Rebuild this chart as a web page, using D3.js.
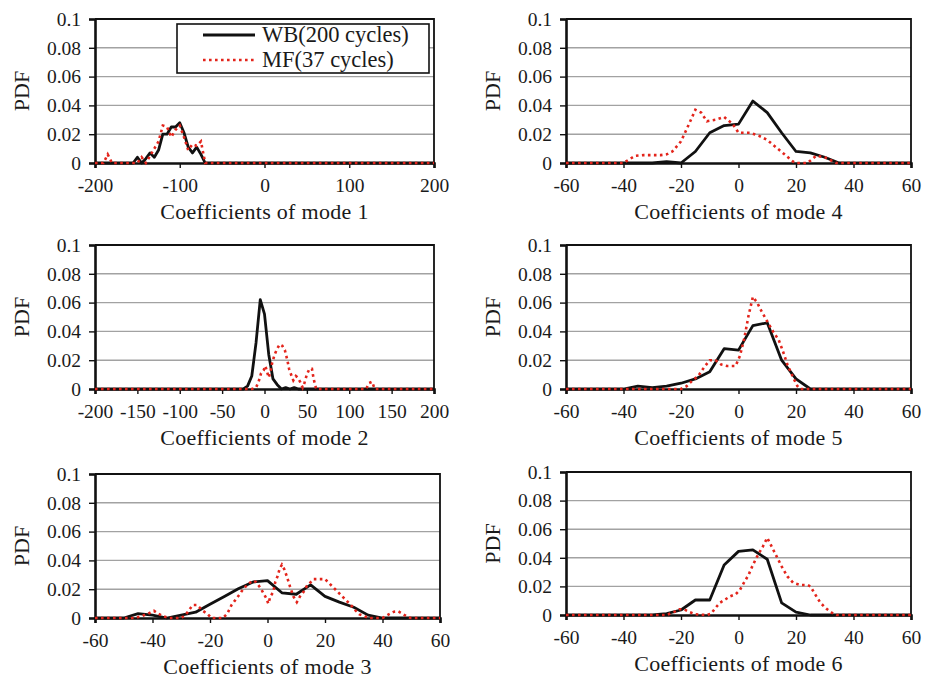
<!DOCTYPE html>
<html>
<head>
<meta charset="utf-8">
<script src="https://cdn.jsdelivr.net/npm/d3@7/dist/d3.min.js"></script>
<style>
	body { margin: 0; background: #fff; }
	svg { display: block; }
	text { font-family: "Liberation Serif", "Times New Roman", serif; fill: #1a1a1a; }
</style>
</head>
<body>
<svg id="chart" width="931" height="678"></svg>
<script>
// tick values
var yTicks = [0, 0.02, 0.04, 0.06, 0.08, 0.1];
var ticksMode1 = [-200, -100, 0, 100, 200];
var ticksMode2 = [-200, -150, -100, -50, 0, 50, 100, 150, 200];
var ticksSmall = [-60, -40, -20, 0, 20, 40, 60];

var seriesNames = ["WB(200 cycles)", "MF(37 cycles)"];

// [coefficient, pdf]
var wbMode1 = [[-200,0],[-155,0],[-150,0.004],[-145,0],[-140,0.003],[-135,0.007],[-130,0.004],[-125,0.009],[-120,0.02],[-115,0.02],[-110,0.025],[-105,0.025],[-100,0.028],[-95,0.021],[-90,0.011],[-85,0.007],[-80,0.011],[-75,0.006],[-70,0],[200,0]];
var mfMode1 = [[-200,0],[-190,0],[-185,0.006],[-180,0],[-150,0],[-145,0.004],[-140,0],[-130,0.01],[-125,0.015],[-120,0.026],[-115,0.025],[-110,0.018],[-105,0.023],[-100,0.026],[-95,0.018],[-90,0.009],[-85,0.013],[-80,0.012],[-75,0.015],[-70,0],[200,0]];

var wbMode2 = [[-200,0],[-25,0],[-20,0.002],[-15,0.009],[-10,0.032],[-5,0.062],[0,0.052],[5,0.024],[10,0.007],[15,0.003],[20,0],[25,0.001],[30,0],[35,0.001],[40,0],[200,0]];
var mfMode2 = [[-200,0],[-15,0],[-10,0.001],[-7,0.005],[-4,0.011],[-1,0.013],[1,0.016],[3,0.012],[5,0.008],[7,0.012],[9,0.018],[12,0.024],[15,0.028],[18,0.031],[21,0.030],[24,0.027],[27,0.02],[29,0.014],[32,0.009],[34,0.006],[37,0.009],[39,0.008],[42,0.005],[45,0.001],[47,0.004],[50,0.010],[53,0.014],[56,0.014],[58,0.007],[61,0],[120,0],[123,0.004],[127,0.005],[130,0],[200,0]];

var wbMode3 = [[-60,0],[-50,0],[-45,0.003],[-40,0.002],[-35,0],[-30,0.002],[-25,0.004],[-20,0.0095],[-15,0.015],[-10,0.0205],[-5,0.025],[0,0.026],[5,0.0175],[10,0.0165],[15,0.023],[20,0.015],[25,0.011],[30,0.0075],[35,0.002],[40,0],[60,0]];
var mfMode3 = [[-60,0],[-46,0],[-43.5,0.0015],[-41.5,0.003],[-39.5,0.005],[-38,0.003],[-36,0.001],[-34,0],[-30,0],[-28.5,0.002],[-27.5,0.005],[-26,0.009],[-24.5,0.009],[-22.5,0.005],[-21,0.003],[-19.5,0],[-15.5,0],[-14,0.003],[-12.5,0.009],[-11,0.013],[-9.5,0.017],[-8.5,0.02],[-6.5,0.024],[-5,0.026],[-4,0.025],[-2.5,0.021],[-1.5,0.0175],[-0.5,0.014],[0.3,0.010],[1,0.015],[2,0.018],[2.7,0.025],[3.5,0.029],[4.2,0.034],[5,0.037],[5.8,0.034],[6.7,0.029],[7.8,0.022],[9,0.015],[10.2,0.011],[11.3,0.015],[12.5,0.018],[13.6,0.022],[14.6,0.024],[16,0.027],[18,0.027],[20,0.027],[21.5,0.024],[23,0.021],[24.5,0.018],[26,0.015],[27.5,0.012],[29,0.009],[30.5,0.0055],[32,0.0025],[33.5,0.0015],[35,0],[40,0],[42,0.0023],[44,0.0044],[45.5,0.0046],[47.3,0.0025],[49,0.0005],[50,0],[60,0]];

var wbMode4 = [[-60,0],[-30,0],[-25,0.001],[-20,0],[-15,0.008],[-10,0.021],[-5,0.026],[0,0.027],[5,0.043],[10,0.035],[15,0.021],[20,0.008],[25,0.007],[30,0.004],[35,0],[60,0]];
var mfMode4 = [[-60,0],[-40,0],[-36,0.005],[-33,0.0055],[-30,0.0055],[-27,0.0055],[-25,0.006],[-23,0.008],[-20,0.015],[-17,0.028],[-15,0.037],[-13,0.035],[-11,0.029],[-8,0.030],[-5,0.032],[-2,0.027],[0,0.021],[4,0.021],[7,0.019],[10,0.016],[13,0.011],[16,0.006],[19,0.001],[20,0],[24,0],[27,0.005],[30,0.004],[34,0],[60,0]];

var wbMode5 = [[-60,0],[-40,0],[-35,0.002],[-30,0.001],[-25,0.002],[-20,0.004],[-15,0.007],[-10,0.012],[-5,0.028],[0,0.027],[5,0.044],[10,0.046],[15,0.020],[20,0.007],[25,0],[60,0]];
var mfMode5 = [[-60,0],[-20,0],[-18,0.002],[-16,0.006],[-14,0.009],[-12,0.015],[-10,0.02],[-8,0.02],[-6,0.017],[-4,0.016],[-1,0.016],[0.5,0.023],[2,0.035],[3.5,0.051],[5,0.064],[6.5,0.06],[8,0.054],[10,0.047],[12,0.04],[14,0.034],[15.5,0.026],[17,0.017],[19,0.008],[20.5,0.002],[21.5,0],[60,0]];

var wbMode6 = [[-60,0],[-30,0],[-25,0.001],[-20,0.0035],[-15,0.0105],[-10,0.0105],[-5,0.035],[0,0.0445],[5,0.0455],[10,0.039],[15,0.0085],[20,0.002],[25,0],[60,0]];
var mfMode6 = [[-60,0],[-25,0],[-22.5,0.002],[-20.5,0.004],[-19,0.004],[-17,0.002],[-15,0.0005],[-11,0],[-9.5,0.001],[-8,0.005],[-6.5,0.0085],[-4.5,0.011],[-3,0.013],[-1,0.0145],[0.5,0.0175],[2,0.023],[3.5,0.028],[5,0.035],[6.5,0.041],[8.5,0.048],[10,0.054],[11.5,0.048],[13.5,0.04],[15,0.034],[17,0.027],[19,0.0225],[21.5,0.021],[24,0.021],[25,0.02],[26.5,0.015],[28.5,0.0085],[30.5,0.0045],[32.5,0.0015],[34,0],[60,0]];

var RED = "#e3241b";

var svg = d3.select("#chart");

// panel boxes in pixels
var panels = [
	{ mode: 1, wb: wbMode1, mf: mfMode1, ticks: ticksMode1, left: 95,  right: 434, top: 19,  bottom: 163, legend: true },
	{ mode: 4, wb: wbMode4, mf: mfMode4, ticks: ticksSmall, left: 566, right: 911, top: 19,  bottom: 163 },
	{ mode: 2, wb: wbMode2, mf: mfMode2, ticks: ticksMode2, left: 95,  right: 434, top: 245, bottom: 389 },
	{ mode: 5, wb: wbMode5, mf: mfMode5, ticks: ticksSmall, left: 566, right: 911, top: 245, bottom: 389 },
	{ mode: 3, wb: wbMode3, mf: mfMode3, ticks: ticksSmall, left: 95,  right: 440, top: 474, bottom: 618 },
	{ mode: 6, wb: wbMode6, mf: mfMode6, ticks: ticksSmall, left: 566, right: 911, top: 472, bottom: 615 }
];

panels.forEach(function(p) {
	var x = d3.scaleLinear()
		.domain(d3.extent(p.ticks))
		.range([p.left, p.right]);
	var y = d3.scaleLinear()
		.domain([0, 0.1])
		.range([p.bottom, p.top]);

	var g = svg.append("g");

	// grid lines
	g.selectAll(".grid")
		.data(yTicks.filter(function(d) { return d > 0 && d < 0.1; }))
		.enter().append("line")
		.attr("x1", p.left).attr("x2", p.right)
		.attr("y1", function(d) { return y(d); })
		.attr("y2", function(d) { return y(d); })
		.attr("stroke", "#a2a2a2")
		.attr("stroke-width", 1.4);

	// frame top + right
	g.append("path")
		.attr("d", "M" + p.left + "," + y(0.1) + "H" + p.right + "V" + p.bottom)
		.attr("fill", "none")
		.attr("stroke", "#111")
		.attr("stroke-width", 1.8);

	// y axis
	var yAxis = g.append("g")
		.attr("transform", "translate(" + p.left + ",0)")
		.call(d3.axisLeft(y).tickValues(yTicks).tickFormat(function(d) { return String(d); }).tickSize(6).tickPadding(8));
	yAxis.select(".domain").attr("stroke", "#111").attr("stroke-width", 2.6);
	yAxis.selectAll(".tick line").attr("stroke", "#111").attr("stroke-width", 1.4);
	yAxis.selectAll(".tick text").attr("font-size", 19.5).attr("font-family", "Liberation Serif").attr("fill", "#1a1a1a");

	// x axis
	var xAxis = g.append("g")
		.attr("transform", "translate(0," + p.bottom + ")")
		.call(d3.axisBottom(x).tickValues(p.ticks).tickFormat(function(d) { return String(d); }).tickSize(5).tickPadding(10));
	xAxis.select(".domain").attr("stroke", "#111").attr("stroke-width", 2.6);
	xAxis.selectAll(".tick line").attr("stroke", "#111").attr("stroke-width", 1.4);
	xAxis.selectAll(".tick text").attr("font-size", 19.5).attr("font-family", "Liberation Serif").attr("fill", "#1a1a1a");

	var line = d3.line()
		.x(function(d) { return x(d[0]); })
		.y(function(d) { return y(d[1]); });

	g.append("path")
		.datum(p.wb)
		.attr("d", line)
		.attr("fill", "none")
		.attr("stroke", "#111")
		.attr("stroke-width", 2.8)
		.attr("stroke-linejoin", "round");

	g.append("path")
		.datum(p.mf)
		.attr("d", line)
		.attr("fill", "none")
		.attr("stroke", RED)
		.attr("stroke-width", 2.6)
		.attr("stroke-dasharray", "2.6,3.4");

	// labels
	g.append("text")
		.attr("x", (p.left + p.right) / 2)
		.attr("y", p.bottom + 56)
		.attr("text-anchor", "middle")
		.attr("font-size", 22)
		.attr("letter-spacing", 0.3)
		.text("Coefficients of mode " + p.mode);

	g.append("text")
		.attr("transform", "translate(" + (p.left - 66) + "," + ((p.top + p.bottom) / 2) + ") rotate(-90)")
		.attr("text-anchor", "middle")
		.attr("font-size", 22)
		.text("PDF");

	if (p.legend) {
		var lg = g.append("g");
		lg.append("rect")
			.attr("x", 177).attr("y", 24)
			.attr("width", 252).attr("height", 49)
			.attr("fill", "#fff")
			.attr("stroke", "#111")
			.attr("stroke-width", 1.6);
		var rows = [
			{ name: seriesNames[0], color: "#111", dash: null, w: 2.8 },
			{ name: seriesNames[1], color: RED, dash: "2.6,3.4", w: 2.6 }
		];
		rows.forEach(function(r, i) {
			var ly = 35 + i * 25;
			lg.append("line")
				.attr("x1", 203).attr("x2", 255)
				.attr("y1", ly).attr("y2", ly)
				.attr("stroke", r.color)
				.attr("stroke-width", r.w)
				.attr("stroke-dasharray", r.dash);
			lg.append("text")
				.attr("x", 262)
				.attr("y", ly + 7)
				.attr("font-size", 22.5)
				.text(r.name);
		});
	}
});
</script>
</body>
</html>
